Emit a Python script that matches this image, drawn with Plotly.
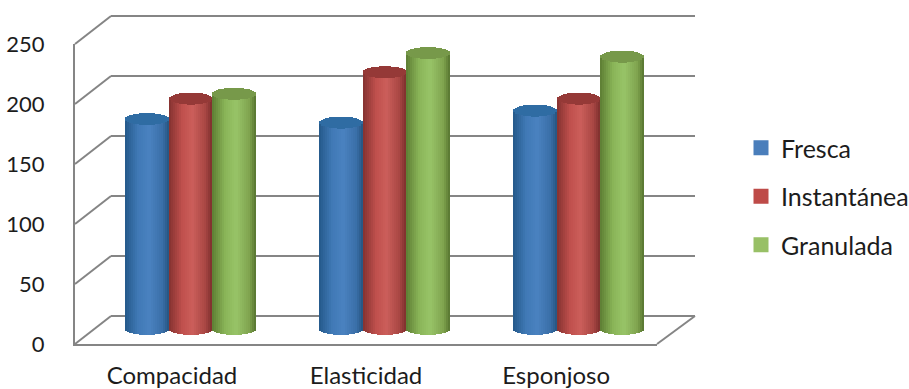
import math
import plotly.graph_objects as go

categories = ["Compacidad", "Elasticidad", "Esponjoso"]
fresca = [175, 172, 182]
instantanea = [192, 214, 192]
granulada = [196, 230, 227]
y_ticks = [0, 50, 100, 150, 200, 250]
label_positions = [0, 1, 1.98]

W, H = 909, 389
FONT = "Lato"
TEXT = "#1c1c1c"
GRID = "#858585"

series = [
    ("Fresca", fresca, "#4a7ebb", [(0.0, "#24598a"), (0.3, "#4079b6"), (0.55, "#4a82c0"), (0.85, "#3a6fa8"), (1.0, "#25547f")], "#2f6ca3"),
    ("Instantánea", instantanea, "#be4b48", [(0.0, "#843230"), (0.3, "#c0504d"), (0.55, "#cc5f5b"), (0.85, "#a84643"), (1.0, "#7c2f2d")], "#953937"),
    ("Granulada", granulada, "#98c066", [(0.0, "#5d7d33"), (0.3, "#8ab558"), (0.55, "#98c468"), (0.85, "#7fa34e"), (1.0, "#56742f")], "#77994a"),
]


def px(x):
    return x / W


def py(y):
    return 1 - y / H


def ramp(stops, t):
    for (t0, c0), (t1, c1) in zip(stops, stops[1:]):
        if t <= t1:
            f = (t - t0) / (t1 - t0)
            rgb = [round(int(c0[i:i + 2], 16) * (1 - f) + int(c1[i:i + 2], 16) * f) for i in (1, 3, 5)]
            return f"rgb({rgb[0]},{rgb[1]},{rgb[2]})"
    return stops[-1][1]


# Wall and floor geometry of the 3D box, in pixels
FRONT_L, FRONT_R, BACK_L, BACK_R = 75, 657, 111, 695
FRONT_0, FRONT_TOP, BACK_0, BACK_TOP = 344, 44, 316, 16
DEPTH_SHIFT = 18.5     # cylinders stand halfway into the box
CYL_0 = 329            # pixel row of the cylinder base centre
CYL_W = 0.2245         # cylinder width in category units
STRIPS = 22
RX_UNITS = 5.0         # half height of the elliptical ends, in value units
PAD = 4                # spare pixels so the outer gridlines are not dropped at the axis ends
UNITS_PER_PX = 250 / 300

fig = go.Figure()

# Cylinders: each series is one bar trace of narrow shaded strips
for s, (name, values, swatch, stops, cap) in enumerate(series):
    xs, bases, heights, colours = [], [], [], []
    cap_bases, cap_heights = [], []
    for c, value in enumerate(values):
        centre = c + (s - 1) * CYL_W
        for k in range(STRIPS):
            t = (k + 0.5) / STRIPS
            dy = RX_UNITS * math.sqrt(max(0.0, 1 - (2 * t - 1) ** 2))
            xs.append(centre - CYL_W / 2 + t * CYL_W)
            bases.append(-dy)
            heights.append(value + dy)
            colours.append(ramp(stops, t))
            cap_bases.append(value - dy)
            cap_heights.append(2 * dy)
    common = dict(x=xs, width=CYL_W / STRIPS, xaxis="x3", yaxis="y3", showlegend=False, hoverinfo="skip")
    fig.add_trace(go.Bar(y=heights, base=bases, marker=dict(color=colours, line=dict(width=0)), name=name, **common))
    fig.add_trace(go.Bar(y=cap_heights, base=cap_bases, marker=dict(color=cap, line=dict(width=0)), name=name, **common))

# Legend entries
for name, values, swatch, stops, cap in series:
    fig.add_trace(go.Bar(
        x=[None], y=[None], xaxis="x3", yaxis="y3", name=name, legendgroup=name,
        marker=dict(color=swatch, line=dict(color=swatch, width=3)),
    ))

# Carries the back wall gridlines and the front axis labels
fig.add_trace(go.Scatter(x=[None], y=[None], xaxis="x", yaxis="y", showlegend=False))
fig.add_trace(go.Scatter(x=label_positions, y=[None] * 3, xaxis="x2", yaxis="y2", showlegend=False))

line = dict(color=GRID, width=2)
shapes = []
# Side wall lines joining the front axis to the back wall
for v in y_ticks:
    f = v / y_ticks[-1]
    y_front = FRONT_0 + (FRONT_TOP - FRONT_0) * f
    y_back = BACK_0 + (BACK_TOP - BACK_0) * f
    shapes.append(dict(type="line", xref="paper", yref="paper", layer="below", line=line,
                       x0=px(FRONT_L), y0=py(y_front), x1=px(BACK_L), y1=py(y_back)))
# Right edge of the floor
shapes.append(dict(type="line", xref="paper", yref="paper", layer="below", line=line,
                   x0=px(FRONT_R), y0=py(FRONT_0), x1=px(BACK_R), y1=py(BACK_0)))

fig.update_layout(
    width=W, height=H,
    margin=dict(l=0, r=0, t=0, b=0, autoexpand=False),
    autosize=False,
    paper_bgcolor="white",
    plot_bgcolor="rgba(0,0,0,0)",
    barmode="overlay",
    bargap=0,
    shapes=shapes,
    font=dict(family=FONT, size=25, color=TEXT),
    showlegend=True,
    legend=dict(
        x=px(741), y=py(125), xanchor="left", yanchor="top",
        tracegroupgap=13, itemclick=False, itemdoubleclick=False,
        bgcolor="rgba(0,0,0,0)", font=dict(family=FONT, size=25, color=TEXT),
    ),
    # back wall
    xaxis=dict(domain=[px(BACK_L), px(BACK_R)], range=[0, 1], visible=False, anchor="y", fixedrange=True, automargin=False),
    yaxis=dict(domain=[py(BACK_0 + PAD), py(BACK_TOP - PAD)],
               range=[-PAD * UNITS_PER_PX, 250 + PAD * UNITS_PER_PX], tickvals=y_ticks, showticklabels=False,
               showgrid=True, gridcolor=GRID, gridwidth=2, zeroline=False, showline=False, ticks="",
               anchor="x", fixedrange=True, automargin=False),
    # front plane: axis lines and labels
    xaxis2=dict(domain=[px(FRONT_L), px(FRONT_R)], type="linear", tickvals=label_positions, ticktext=categories,
                range=[-0.5, 2.5], showline=True, linecolor=GRID, linewidth=2, showgrid=False, zeroline=False,
                ticks="outside", ticklen=9, tickcolor="rgba(0,0,0,0)", tickfont=dict(family=FONT, size=24, color=TEXT),
                anchor="y2", fixedrange=True, automargin=False),
    yaxis2=dict(domain=[py(FRONT_0), py(FRONT_TOP)], range=[0, 250], tickvals=y_ticks, showline=True, linecolor=GRID,
                linewidth=2, showgrid=False, zeroline=False, ticks="outside", ticklen=24, tickcolor="rgba(0,0,0,0)",
                tickfont=dict(family=FONT, size=22, color=TEXT), anchor="x2", fixedrange=True, automargin=False),
    # cylinders
    xaxis3=dict(domain=[px(FRONT_L + DEPTH_SHIFT), px(FRONT_R + DEPTH_SHIFT)], range=[-0.5, 2.5], visible=False,
                anchor="y3", fixedrange=True, automargin=False),
    yaxis3=dict(domain=[py(CYL_0 + 8), py(CYL_0 - 300)], range=[-8 * UNITS_PER_PX, 250], visible=False,
                anchor="x3", fixedrange=True, automargin=False),
)

fig.write_html("out.html")
